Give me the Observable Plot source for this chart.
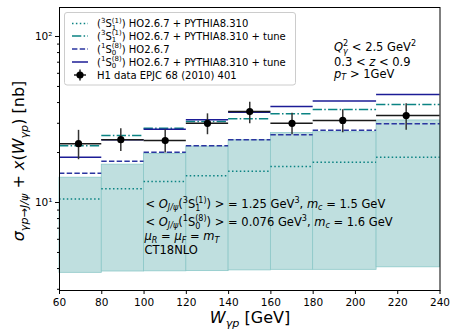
<!DOCTYPE html>
<html>
<head>
<meta charset="utf-8">
<script src="https://cdn.jsdelivr.net/npm/d3@7"></script>
<script src="https://cdn.jsdelivr.net/npm/@observablehq/plot@0.6"></script>
<style>
  html, body { margin: 0; padding: 0; background: white; }
  #chart { width: 451px; height: 329px; position: relative; }
</style>
</head>
<body>
<div id="chart"></div>
<script>
// ---- data ----
const binLo = [60, 80, 100, 120, 140, 160, 180, 210];
const binHi = [80, 100, 120, 140, 160, 180, 210, 240];
// teal band (lower / upper edge)
const bandLow = [3.77, 3.84, 3.85, 3.86, 3.90, 3.93, 3.93, 4.07];
const bandHigh = [14.1, 16.9, 19.6, 21.7, 23.7, 26.2, 26.5, 31.2];
// (3S1(1)) HO2.6.7 + PYTHIA8.310
const s1Pythia = [10.5, 12.1, 13.4, 14.5, 15.4, 16.5, 17.5, 18.7];
// (3S1(1)) HO2.6.7 + PYTHIA8.310 + tune
const s1Tune = [22.0, 25.3, 28.0, 30.8, 31.9, 34.2, 36.3, 38.9];
// (1S0(8)) HO2.6.7
const s0HO = [15.0, 17.7, 20.1, 22.0, 23.9, 25.6, 27.2, 29.8];
// (1S0(8)) HO2.6.7 + PYTHIA8.310 + tune
const s0Tune = [18.7, 23.9, 27.6, 31.5, 35.0, 37.9, 40.8, 44.7];
// H1 data EPJC 68 (2010) 401
const h1W = [69, 89, 110, 130, 150, 170, 194, 224];
const h1Sigma = [22.6, 23.9, 23.6, 30.0, 35.3, 30.0, 31.2, 33.4];
const h1Low = [18.1, 20.3, 19.9, 25.6, 29.8, 25.6, 26.3, 27.2];
const h1High = [27.2, 27.8, 27.4, 34.2, 40.2, 34.5, 36.2, 39.3];
// ticks
const xTicks = [60, 80, 100, 120, 140, 160, 180, 200, 220, 240];
const yMajorTicks = [10, 100];
const yTickLabels = ["10\u00b9", "10\u00b2"];
const yMinorTicks = [3, 4, 5, 6, 7, 8, 9, 20, 30, 40, 50, 60, 70, 80, 90];

const teal = "#0b8383";
const navyDash = "#2a35a0";
const navy = "#1c1c96";
const dataCol = "#1a1a1a";
const FONT = "DejaVu Sans";

const bins = binLo.map((lo, i) => ({
  lo, hi: binHi[i], bLo: bandLow[i], bHi: bandHigh[i],
  s1p: s1Pythia[i], s1t: s1Tune[i], s0h: s0HO[i], s0t: s0Tune[i]
}));
const h1 = h1W.map((w, i) => ({
  w, lo: binLo[i], hi: binHi[i], s: h1Sigma[i], eLo: h1Low[i], eHi: h1High[i]
}));

const plot = Plot.plot({
  width: 451, height: 329,
  marginLeft: 59, marginRight: 11.5, marginTop: 7, marginBottom: 39,
  style: { fontFamily: FONT, fontSize: "10.5px", color: "black", background: "white", overflow: "visible" },
  x: { domain: [60, 240] },
  y: { type: "log", domain: [2.95, 149.5] },
  marks: [
    Plot.rect(bins, { x1: "lo", x2: "hi", y1: "bLo", y2: "bHi", fill: "#bfdfdf", stroke: "#8cc8c8", strokeWidth: 0.8 }),
    Plot.ruleY(bins, { x1: "lo", x2: "hi", y: "s1p", stroke: teal, strokeWidth: 1.5, strokeDasharray: "1.5,2.4" }),
    Plot.ruleY(bins, { x1: "lo", x2: "hi", y: "s1t", stroke: teal, strokeWidth: 1.5, strokeDasharray: "9.3,2.3,1.5,2.3" }),
    Plot.ruleY(bins, { x1: "lo", x2: "hi", y: "s0h", stroke: navyDash, strokeWidth: 1.5, strokeDasharray: "5.4,2.3" }),
    Plot.ruleY(bins, { x1: "lo", x2: "hi", y: "s0t", stroke: navy, strokeWidth: 1.5 }),
    Plot.ruleY(h1, { x1: "lo", x2: "hi", y: "s", stroke: dataCol, strokeWidth: 1.5 }),
    Plot.ruleX(h1, { x: "w", y1: "eLo", y2: "eHi", stroke: "#333", strokeWidth: 1.5 }),
    Plot.dot(h1, { x: "w", y: "s", r: 3.6, fill: "black", stroke: "none" }),
    Plot.frame({ stroke: "black", strokeWidth: 1 }),
    Plot.axisX({ ticks: xTicks, tickSize: 4, tickPadding: 4, tickFormat: d => String(d), label: null, fontSize: 10.5 }),
    Plot.axisY({ ticks: yMajorTicks, tickSize: 4, tickPadding: 3, tickFormat: d => yTickLabels[yMajorTicks.indexOf(d)], label: null, fontSize: 10.5 }),
    Plot.axisY({ ticks: yMinorTicks, tickSize: 2, tickFormat: () => "", label: null })
  ]
});
document.getElementById("chart").appendChild(plot);

// ---- rich text helper ----
const svg = d3.select(plot);
function rich(parent, x, y, parts, fs, opts = {}) {
  const g = parent.append("g").attr("font-family", FONT).attr("font-size", fs)
    .attr("fill", "black").attr("text-anchor", "start");
  let cx = 0;
  const small = fs * 0.7;
  function put(txt, dx, dy, size, italic) {
    const t = g.append("text").attr("x", dx).attr("y", dy).attr("font-size", size)
      .attr("text-anchor", "start").style("white-space", "pre").text(txt);
    if (italic) t.attr("font-style", "italic");
    return t.node().getComputedTextLength();
  }
  for (const p of parts) {
    if (typeof p === "string") cx += put(p, cx, 0, fs, false);
    else if (p.i !== undefined) cx += put(p.i, cx, 0, fs, true);
    else if (p.sup !== undefined) cx += put(p.sup, cx, -fs * 0.42, small, p.it);
    else if (p.sub !== undefined) cx += put(p.sub, cx, fs * 0.25, small, p.it);
    else if (p.stack) {
      const a = put(p.stack[0], cx, -fs * 0.42, small, p.itSup);
      const b = put(p.stack[1], cx, fs * 0.28, small, p.itSub);
      cx += Math.max(a, b);
    }
  }
  let ox = x;
  if (opts.anchor === "middle") ox = x - cx / 2;
  if (opts.rotate) g.attr("transform", `translate(${x},${y}) rotate(-90) translate(${-cx / 2},0)`);
  else g.attr("transform", `translate(${ox},${y})`);
  return cx;
}

// ---- legend ----
const leg = svg.append("g");
leg.append("rect").attr("x", 64.5).attr("y", 12.5).attr("width", 231).attr("height", 72.5)
  .attr("rx", 2.5).attr("fill", "white").attr("fill-opacity", 0.85).attr("stroke", "#cccccc").attr("stroke-width", 1);
const rowsY = [23.5, 36, 49, 62, 75];
const hx1 = 72, hx2 = 88, tx = 97;
const legendStyles = [
  { stroke: teal, dash: "1.5,2.4" },
  { stroke: teal, dash: "9.3,2.3,1.5,2.3" },
  { stroke: navyDash, dash: "5.4,2.3" },
  { stroke: navy, dash: null }
];
legendStyles.forEach((s, i) => {
  const l = leg.append("line").attr("x1", hx1).attr("x2", hx2).attr("y1", rowsY[i]).attr("y2", rowsY[i])
    .attr("stroke", s.stroke).attr("stroke-width", 1.5);
  if (s.dash) l.attr("stroke-dasharray", s.dash);
});
// data marker
leg.append("line").attr("x1", 80).attr("x2", 80).attr("y1", rowsY[4] - 5.5).attr("y2", rowsY[4] + 5.5).attr("stroke", "#222").attr("stroke-width", 1.5);
leg.append("line").attr("x1", 74).attr("x2", 86).attr("y1", rowsY[4]).attr("y2", rowsY[4]).attr("stroke", "#222").attr("stroke-width", 1.5);
leg.append("circle").attr("cx", 80).attr("cy", rowsY[4]).attr("r", 3.6).attr("fill", "black");

const LFS = 10;
const legendTexts = [
  ["(", { sup: "3" }, "S", { stack: ["(1)", "1"] }, ") HO2.6.7 + PYTHIA8.310"],
  ["(", { sup: "3" }, "S", { stack: ["(1)", "1"] }, ") HO2.6.7 + PYTHIA8.310 + tune"],
  ["(", { sup: "1" }, "S", { stack: ["(8)", "0"] }, ") HO2.6.7"],
  ["(", { sup: "1" }, "S", { stack: ["(8)", "0"] }, ") HO2.6.7 + PYTHIA8.310 + tune"],
  ["H1 data EPJC 68 (2010) 401"]
];
legendTexts.forEach((t, i) => rich(leg, tx, rowsY[i] + 3.6, t, LFS));

// ---- annotations ----
const AFS = 11.5;
rich(svg, 334, 51, [{ i: "Q" }, { stack: ["2", "\u03b3"], itSub: true }, " < 2.5 GeV", { sup: "2" }], AFS);
rich(svg, 334, 65.5, ["0.3 < ", { i: "z" }, " < 0.9"], AFS);
rich(svg, 334, 77.5, [{ i: "p" }, { sub: "T", it: true }, " > 1GeV"], AFS);

rich(svg, 145.5, 207.5, ["< ", { i: "O" }, { sub: "J/\u03c8", it: true }, "(", { sup: "3" }, "S", { stack: ["(1)", "1"] }, ") > = 1.25 GeV", { sup: "3" }, ", ", { i: "m" }, { sub: "c", it: true }, " = 1.5 GeV"], AFS);
rich(svg, 145.5, 225.5, ["< ", { i: "O" }, { sub: "J/\u03c8", it: true }, "(", { sup: "1" }, "S", { stack: ["(8)", "0"] }, ") > = 0.076 GeV", { sup: "3" }, ", ", { i: "m" }, { sub: "c", it: true }, " = 1.6 GeV"], AFS);
rich(svg, 144.5, 240, [{ i: "\u03bc" }, { sub: "R", it: true }, " = ", { i: "\u03bc" }, { sub: "F", it: true }, " = ", { i: "m" }, { sub: "T", it: true }], AFS);
rich(svg, 144.5, 253.5, ["CT18NLO"], AFS);

// ---- axis titles ----
rich(svg, 250, 323, [{ i: "W" }, { sub: "\u03b3p", it: true }, " [GeV]"], 16, { anchor: "middle" });
rich(svg, 24, 161, [{ i: "\u03c3" }, { sub: "\u03b3p\u2192J/\u03c8", it: true }, " + ", { i: "x" }, "(", { i: "W" }, { sub: "\u03b3p", it: true }, ") [nb]"], 16, { rotate: true });
</script>
</body>
</html>
